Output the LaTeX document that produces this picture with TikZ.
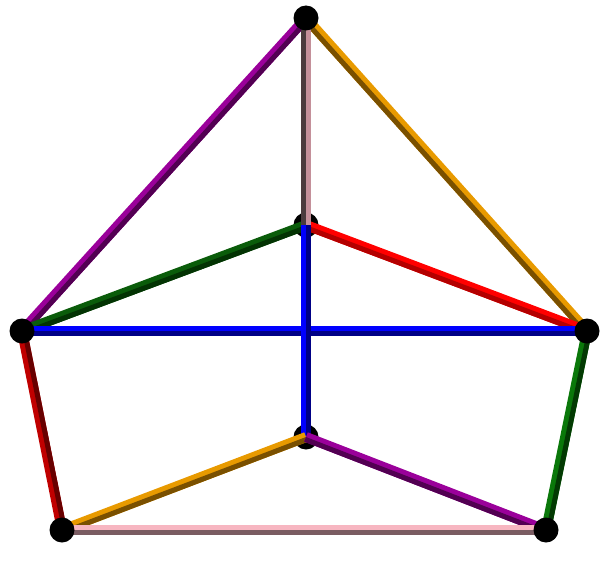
\documentclass[tikz,border=0pt]{standalone}
\usetikzlibrary{calc}
\pgfdeclarelayer{bg}
\pgfdeclarelayer{fg}
\pgfsetlayers{bg,main,fg}
\definecolor{purL}{HTML}{9A009A}\definecolor{purD}{HTML}{520052}
\definecolor{oraL}{HTML}{E89A00}\definecolor{oraD}{HTML}{7A5000}
\definecolor{gryL}{HTML}{C4909A}\definecolor{gryD}{HTML}{4A3B3D}
\definecolor{dgrL}{HTML}{0A5C0A}\definecolor{dgrD}{HTML}{033303}
\definecolor{redL}{HTML}{FF0000}\definecolor{redD}{HTML}{B40000}
\definecolor{bluL}{HTML}{0000FF}\definecolor{bluD}{HTML}{000085}
\definecolor{drdL}{HTML}{C00000}\definecolor{drdD}{HTML}{680000}
\definecolor{grnL}{HTML}{0A780A}\definecolor{grnD}{HTML}{033A03}
\definecolor{pnkL}{HTML}{F7B6C1}\definecolor{pnkD}{HTML}{7A5C62}
\newcommand\tube[4]{%
  \draw[line width=10pt,#3] (#1.center) -- (#2.center);
  \draw[line width=5pt,#4] ($(#1.center)!2.5pt!-90:(#2.center)$) -- ($(#2.center)!2.5pt!90:(#1.center)$);
}
\begin{document}
\begin{tikzpicture}[x=1pt,y=-1pt,
  vertex/.style={circle,fill=black,inner sep=0pt,minimum size=25pt}]
\useasboundingbox (0,0) rectangle (613,586);
\begin{pgfonlayer}{bg}
\node[vertex] (C1) at (306,225) {};
\node[vertex] (C2) at (306,437) {};
\end{pgfonlayer}
\begin{pgfonlayer}{fg}
\node[vertex] (T) at (306,18) {};
\node[vertex] (L) at (22,331) {};
\node[vertex] (R) at (587,331) {};
\node[vertex] (BL) at (62,530) {};
\node[vertex] (BR) at (546,530) {};
\end{pgfonlayer}
\tube{L}{T}{purL}{purD}
\tube{T}{R}{oraL}{oraD}
\tube{L}{C1}{dgrL}{dgrD}
\tube{C1}{R}{redL}{redD}
\tube{L}{R}{bluL}{bluD}
\tube{C2}{C1}{bluL}{bluD}
\tube{BL}{L}{drdL}{drdD}
\tube{BR}{R}{grnL}{grnD}
\tube{BL}{C2}{oraL}{oraD}
\tube{C2}{BR}{purL}{purD}
\tube{BL}{BR}{pnkL}{pnkD}
\tube{T}{C1}{gryL}{gryD}
\end{tikzpicture}
\end{document}
